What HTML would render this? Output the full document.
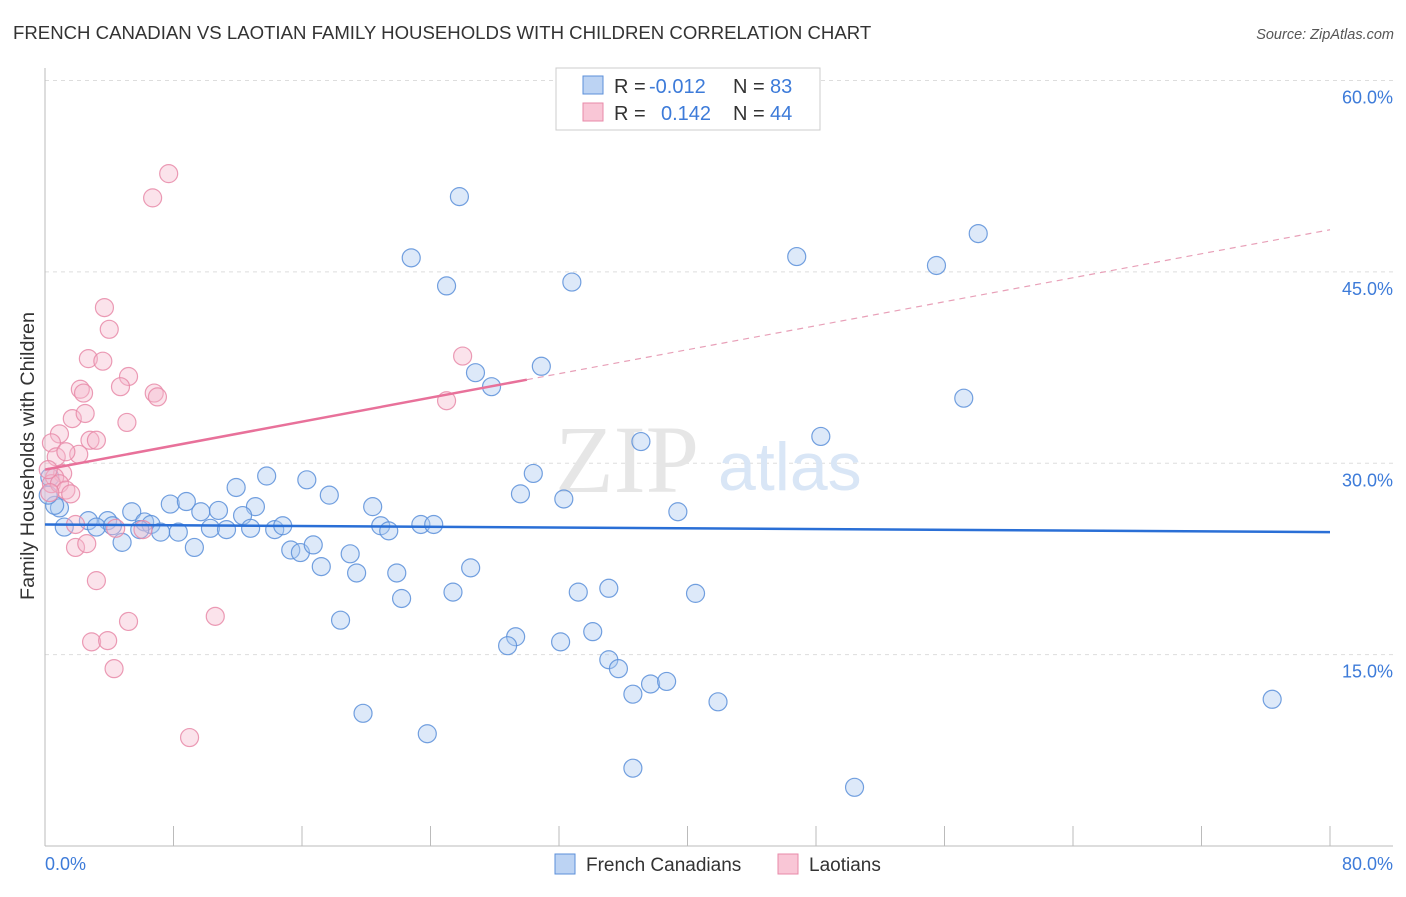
<!DOCTYPE html>
<html><head><meta charset="utf-8"><style>
body{margin:0;background:#fff;font-family:"Liberation Sans",sans-serif}
svg text{font-family:"Liberation Sans",sans-serif}
</style></head><body>
<svg id="chart" width="1406" height="892" viewBox="0 0 1406 892" xmlns="http://www.w3.org/2000/svg">
<text x="13" y="39" font-size="18.6" fill="#333">FRENCH CANADIAN VS LAOTIAN FAMILY HOUSEHOLDS WITH CHILDREN CORRELATION CHART</text>
<text x="1394" y="39" font-size="14.5" fill="#555" text-anchor="end" font-style="italic">Source: ZipAtlas.com</text>
<g id="grid"></g>
<line x1="45" y1="68" x2="45" y2="846" stroke="#bbb"/>
<line x1="45" y1="846" x2="1393" y2="846" stroke="#bbb"/>
<g id="xticks"></g>
<g id="ylabels"></g>
<text x="45" y="870" font-size="18" fill="#3d7bd9">0.0%</text>
<text x="1393" y="870" font-size="18" fill="#3d7bd9" text-anchor="end">80.0%</text>
<text transform="translate(34,456) rotate(-90)" font-size="19.8" fill="#333" text-anchor="middle">Family Households with Children</text>
<g><text x="555" y="492" font-size="96" fill="#e6e6e6" font-family="Liberation Serif,serif" style="font-family:'Liberation Serif',serif">ZIP</text><text x="718" y="490" font-size="68" fill="#d9e6f6">atlas</text></g>
<g id="pts"></g>
<g id="lines"></g>
<g>
<rect x="556" y="68" width="264" height="62" fill="#fff" stroke="#ccc"/>
<rect x="583" y="76" width="20" height="18" fill="#bcd3f3" stroke="#5b8fd9"/>
<rect x="583" y="103" width="20" height="18" fill="#f9c6d6" stroke="#e88aa8"/>
<text x="614" y="93" font-size="20" fill="#333">R = <tspan x="649" fill="#3d7bd9">-0.012</tspan><tspan x="733">N = </tspan><tspan x="770" fill="#3d7bd9">83</tspan></text>
<text x="614" y="120" font-size="20" fill="#333">R = <tspan x="661" fill="#3d7bd9">0.142</tspan><tspan x="733">N = </tspan><tspan x="770" fill="#3d7bd9">44</tspan></text>
</g>
<g><rect x="555" y="854" width="20" height="20" fill="#bcd3f3" stroke="#5b8fd9"/><text x="586" y="871" font-size="19" fill="#333">French Canadians</text></g>
<g><rect x="778" y="854" width="20" height="20" fill="#f9c6d6" stroke="#e88aa8"/><text x="809" y="871" font-size="19" fill="#333">Laotians</text></g>
</svg>
<script>
const yTicks=[15,30,45,60];
const yTickLabels=["15.0%","30.0%","45.0%","60.0%"];
const blueX=[25.8,58.1,22.8,46.8,55.5,25.0,32.8,30.9,26.8,27.8,57.2,37.1,48.3,30.4,29.6,32.3,39.4,13.8,16.3,11.9,17.7,20.4,7.8,8.8,9.7,10.8,13.1,12.3,5.4,3.9,2.7,0.9,0.6,1.2,3.2,4.2,6.2,6.6,7.2,8.3,10.3,11.3,12.8,14.3,14.8,20.9,21.4,23.4,24.2,5.9,4.8,9.3,15.3,15.9,16.7,19.0,17.2,19.4,21.9,26.5,25.4,22.2,33.2,35.1,40.5,18.4,29.3,28.8,32.1,34.1,35.1,35.7,36.6,37.7,38.7,41.9,19.8,23.8,36.6,50.4,76.4,0.3,0.2];
const blueY=[50.9,48.0,46.1,46.2,45.5,43.9,44.2,37.6,37.1,36.0,35.1,31.7,32.1,29.2,27.6,27.2,26.2,29.0,28.7,28.1,27.5,26.6,26.8,27.0,26.2,26.3,26.6,25.9,26.2,25.5,25.5,26.5,26.7,25.0,25.0,25.1,25.4,25.2,24.6,24.6,24.9,24.8,24.9,24.8,25.1,25.1,24.7,25.2,25.2,24.8,23.8,23.4,23.2,23.0,23.6,22.9,21.9,21.4,21.4,21.8,19.9,19.4,19.9,20.2,19.8,17.7,16.4,15.7,16.0,16.8,14.6,13.9,11.9,12.7,12.9,11.3,10.4,8.8,6.1,4.6,11.5,28.9,27.5];
const pinkX=[7.7,6.7,3.7,4.0,2.7,3.6,5.2,4.7,2.2,2.4,6.8,7.0,1.7,2.5,5.1,0.9,2.8,3.2,0.4,2.1,0.7,1.3,1.1,0.6,0.4,0.9,1.3,1.6,0.3,1.9,1.9,2.6,6.1,4.4,3.2,5.2,2.9,3.9,4.3,9.0,10.6,26.0,25.0,0.2];
const pinkY=[52.7,50.8,42.2,40.5,38.2,38.0,36.8,36.0,35.8,35.5,35.5,35.2,33.5,33.9,33.2,32.3,31.8,31.8,31.6,30.7,30.5,30.9,29.2,28.9,28.4,28.4,27.9,27.6,27.7,25.2,23.4,23.7,24.8,24.9,20.8,17.6,16.0,16.1,13.9,8.5,18.0,38.4,34.9,29.5];
const blueTrend=[25.2,24.6];      // y at x=0, x=80
const pinkTrend=[29.5,48.3];      // y at x=0, x=80
const pinkSolidEnd=30;
const X=v=>45+v*1285/80, Y=v=>846-v*765.5/60;
const NS="http://www.w3.org/2000/svg";
function mk(tag,attrs,parent){const e=document.createElementNS(NS,tag);for(const k in attrs)e.setAttribute(k,attrs[k]);parent.appendChild(e);return e;}
const grid=document.getElementById('grid'),yl=document.getElementById('ylabels'),xt=document.getElementById('xticks');
yTicks.forEach((t,i)=>{
 const l=mk('line',{x1:45,x2:1393,y1:Y(t),y2:Y(t),stroke:'#ddd','stroke-dasharray':'4,4'},grid);
 
 
 const tx=mk('text',{x:1393,y:Y(t)+23,'font-size':18,fill:'#3d7bd9','text-anchor':'end'},yl);
 tx.textContent=yTickLabels[i];
 
 
});
for(let v=0;v<=80;v+=8){
 const l=mk('line',{x1:X(v),x2:X(v),y1:826,y2:846,stroke:'#bbb'},xt);
 
 
}
const pts=document.getElementById('pts');
function drawSeries(xs,ys,fill,stroke,name){
 xs.forEach((x,i)=>{
  const c=mk('circle',{cx:X(x),cy:Y(ys[i]),r:9,fill:fill,'fill-opacity':0.4,stroke:stroke,'stroke-width':1.2,'stroke-opacity':0.85},pts);
  
  
 });
}
drawSeries(blueX,blueY,'#a9c8f0','#5b8fd9','point-french-canadian');
drawSeries(pinkX,pinkY,'#f5b8cc','#e88aa8','point-laotian');
const lines=document.getElementById('lines');
const bl=mk('line',{x1:X(0),y1:Y(blueTrend[0]),x2:X(80),y2:Y(blueTrend[1]),stroke:'#2a6fd6','stroke-width':2.5},lines);


const py=x=>pinkTrend[0]+(pinkTrend[1]-pinkTrend[0])*x/80;
const pl=mk('line',{x1:X(0),y1:Y(py(0)),x2:X(pinkSolidEnd),y2:Y(py(pinkSolidEnd)),stroke:'#e8719a','stroke-width':2.5},lines);


const pd=mk('line',{x1:X(pinkSolidEnd),y1:Y(py(pinkSolidEnd)),x2:X(80),y2:Y(py(80)),stroke:'#e8a0b8','stroke-width':1.2,'stroke-dasharray':'6,5'},lines);


</script>
</body></html>
